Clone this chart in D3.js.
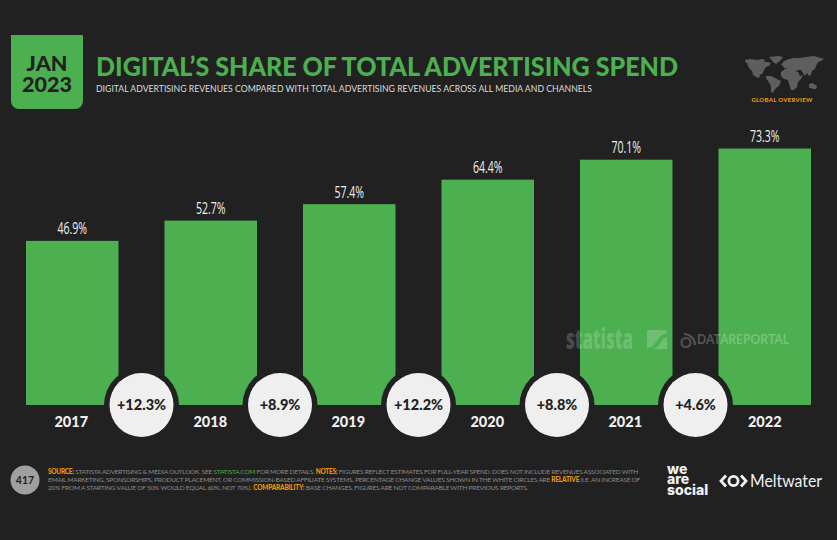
<!DOCTYPE html>
<html><head><meta charset="utf-8">
<script src="https://cdn.jsdelivr.net/npm/d3@7/dist/d3.min.js"></script>
<style>
html,body{margin:0;padding:0;background:#212121;overflow:hidden}
svg{display:block}
text{font-family:Lato,"Open Sans",sans-serif}
.axis text{font-family:Lato,sans-serif;font-weight:900;font-size:14.5px;fill:#efefef}
</style></head><body>
<svg id="c" width="837" height="540"></svg>
<script>
const years=["2017","2018","2019","2020","2021","2022"];
const shares=[46.9,52.7,57.4,64.4,70.1,73.3];
const changes=["+12.3%","+8.9%","+12.2%","+8.8%","+4.6%"];
const GREEN="#4caf50",BG="#212121",ORANGE="#e8980f";
const svg=d3.select("#c");
svg.append("rect").attr("width",837).attr("height",540).attr("fill",BG);

// header badge
svg.append("path").attr("fill",GREEN)
  .attr("d","M11,35H83V101a8,8 0 0 1 -8,8H19a8,8 0 0 1 -8,-8Z");
[["JAN",71],["2023",92]].forEach(([t,y])=>svg.append("text").attr("x",47).attr("y",y)
  .attr("text-anchor","middle").attr("font-size",21.5).attr("font-weight",900).attr("fill","#212121").text(t));
svg.append("text").attr("x",96).attr("y",75.5).attr("font-size",27).attr("font-weight",900)
  .attr("fill",GREEN).attr("textLength",582).attr("lengthAdjust","spacingAndGlyphs").text("DIGITAL’S SHARE OF TOTAL ADVERTISING SPEND");
svg.append("text").attr("x",96).attr("y",91.5).attr("font-size",10.2).attr("fill","#dcdcdc")
  .attr("textLength",496).attr("lengthAdjust","spacingAndGlyphs")
  .text("DIGITAL ADVERTISING REVENUES COMPARED WITH TOTAL ADVERTISING REVENUES ACROSS ALL MEDIA AND CHANNELS");

// world map glyph (decorative)
const map=svg.append("g").attr("fill","#5e5e5e");
["M745,60l5,-1 7,1 5,-1 3,1 -1,2 4,0 3,1 -2,3 -3,1 -2,3 -1,3 -3,2 -1,3 -3,-1 -3,-2 -1,-4 -3,-3 -2,-5 -2,-1Z",
 "M766,76l5,0 6,3 4,2 -2,5 -3,2 -2,3 -1,2 -2,-1 0,-6 -3,-5 -2,-3Z",
 "M769,57l9,-1 5,1 -3,4 -4,3 -3,-2 -2,-3Z",
 "M781,72l4,-3 6,0 3,2 4,1 2,4 3,-1 -2,4 -3,3 -1,5 -3,3 -3,0 -2,-6 -1,-4 -4,-1 -3,-3Z",
 "M781,65l3,-4 5,-2 5,-1 5,0 7,-1 8,-1 7,2 3,1 -3,2 -3,1 -2,4 -1,3 -3,2 -1,4 -2,1 -2,-3 -2,3 -2,-3 -2,-3 -3,0 -3,2 -4,-2 -3,-1 -4,-1 -1,-2Z",
 "M809,84l3,-1 2,1 3,2 -1,3 -3,0 -2,-1 -2,0Z"].forEach(d=>map.append("path").attr("d",d));
svg.append("text").attr("x",782).attr("y",102).attr("text-anchor","middle").attr("font-size",6)
  .attr("font-weight",900).attr("letter-spacing",.3).attr("fill",ORANGE).text("GLOBAL OVERVIEW");

// chart
const baseY=405, plotTop=148.5;
const xb=d3.scaleBand().domain(years).range([26,811]).paddingInner(46/138.5).paddingOuter(0);
const y=d3.scaleLinear().domain([0,73.3]).range([baseY,plotTop]);

svg.append("g").selectAll("rect").data(years).join("rect")
  .attr("x",d=>xb(d)).attr("width",xb.bandwidth())
  .attr("y",(d,i)=>y(shares[i])).attr("height",(d,i)=>baseY-y(shares[i])).attr("fill",GREEN);

// value labels
svg.append("g").selectAll("text").data(years).join("text")
  .attr("transform",(d,i)=>`translate(${xb(d)+xb.bandwidth()/2},${y(shares[i])-6.5}) scale(.64,1)`)
  .attr("text-anchor","middle").attr("font-size",16.5).attr("font-weight",500)
  .style("font-family","'Open Sans',sans-serif").attr("fill","#f0f0f0").text((d,i)=>shares[i].toFixed(1)+"%");

// watermarks
svg.append("text").attr("transform","translate(566,349) scale(.6,1)").attr("font-size",28).attr("font-weight",800)
  .style("font-family","'Open Sans',sans-serif").attr("fill","#ffffff").attr("fill-opacity",.2).text("statista");
svg.append("path").attr("d","M647,330H667V349H647Z").attr("fill","#ffffff").attr("fill-opacity",.2);
svg.append("path").attr("d","M647,348C658,347 655,336 667,333V337C659,339 661,349 651,349H647Z").attr("fill",GREEN);
const dr=svg.append("g").attr("fill","none").attr("stroke","#ffffff").attr("stroke-opacity",.22).attr("stroke-width",2.2);
dr.append("circle").attr("cx",686).attr("cy",342.5).attr("r",4.5);
dr.append("path").attr("d","M684,334a11,11 0 0 1 11,11");
svg.append("text").attr("x",697).attr("y",344).attr("font-size",13).attr("font-weight",700)
  .attr("textLength",92).attr("lengthAdjust","spacingAndGlyphs")
  .attr("fill","#ffffff").attr("fill-opacity",.25).text("DATAREPORTAL");

// change circles between bars
const mid=i=>(xb(years[i])+xb.bandwidth()+xb(years[i+1]))/2;
const cg=svg.append("g").selectAll("g").data(changes).join("g")
  .attr("transform",(d,i)=>`translate(${mid(i)},${baseY})`);
cg.append("circle").attr("r",37.5).attr("fill",BG);
cg.append("circle").attr("r",32).attr("fill","#efefef");
cg.append("text").attr("y",5).attr("text-anchor","middle").attr("font-size",14.5).attr("font-weight",900)
  .attr("fill","#212121").text(d=>d);

// year axis
const axis=svg.append("g").attr("class","axis").attr("transform",`translate(0,${baseY})`)
  .call(d3.axisBottom(xb).tickSize(0).tickPadding(12));
axis.select(".domain").remove();
axis.selectAll("text").attr("transform",(d,i)=>`translate(${[-1,-.5,-1,-.5,-1,0][i]},0)`);

// page number
svg.append("circle").attr("cx",25).attr("cy",480).attr("r",14.5).attr("fill","#a0a0a0");
svg.append("text").attr("x",25).attr("y",484).attr("text-anchor","middle").attr("font-size",10.5)
  .attr("font-weight",700).attr("fill","#212121").text("417");

// footnotes: each line is fitted to its width by letter spacing
const lines=[
 [["SOURCE:",1],[" STATISTA ADVERTISING & MEDIA OUTLOOK. SEE ",0],["STATISTA.COM",2],[" FOR MORE DETAILS. ",0],["NOTES:",1],[" FIGURES REFLECT ESTIMATES FOR FULL-YEAR SPEND. DOES NOT INCLUDE REVENUES ASSOCIATED WITH",0]],
 [["EMAIL MARKETING, SPONSORSHIPS, PRODUCT PLACEMENT, OR COMMISSION-BASED AFFILIATE SYSTEMS. PERCENTAGE CHANGE VALUES SHOWN IN THE WHITE CIRCLES ARE ",0],["RELATIVE",1],[" (I.E. AN INCREASE OF",0]],
 [["20% FROM A STARTING VALUE OF 50% WOULD EQUAL 60%, NOT 70%). ",0],["COMPARABILITY:",1],[" BASE CHANGES. FIGURES ARE NOT COMPARABLE WITH PREVIOUS REPORTS.",0]]
];
const widths=[590,592,480];
lines.forEach((runs,i)=>{
  const t=svg.append("text").attr("x",48).attr("y",473.5+i*8.2).attr("font-size",6.5).style("white-space","pre");
  runs.forEach(([s,k])=>t.append("tspan").text(s)
    .attr("fill",k==1?ORANGE:k==2?GREEN:"#8c8c8c").attr("font-weight",k==1?900:400));
  const n=runs.map(r=>r[0]).join("").length;
  t.attr("letter-spacing",(widths[i]-t.node().getComputedTextLength())/n);
});

// logos
[["we",473.5],["are",484],["social",494.5]].forEach(([s,yy])=>svg.append("text").attr("x",667).attr("y",yy)
  .attr("font-size",14).attr("font-weight",800).style("font-family","Inter,sans-serif").attr("fill","#f0f0f0").text(s));
const mw=svg.append("g").attr("fill","none").attr("stroke","#f0f0f0").attr("stroke-width",2.8);
mw.append("path").attr("d","M726,475.5L721,481L726,486.5");
mw.append("path").attr("d","M741,475.5L746,481L741,486.5");
mw.append("circle").attr("cx",733.5).attr("cy",481).attr("r",4.6);
svg.append("text").attr("x",750).attr("y",487).attr("font-size",16.5).attr("font-weight",400)
  .attr("textLength",72).attr("lengthAdjust","spacingAndGlyphs")
  .attr("fill","#f0f0f0").text("Meltwater");
</script></body></html>
